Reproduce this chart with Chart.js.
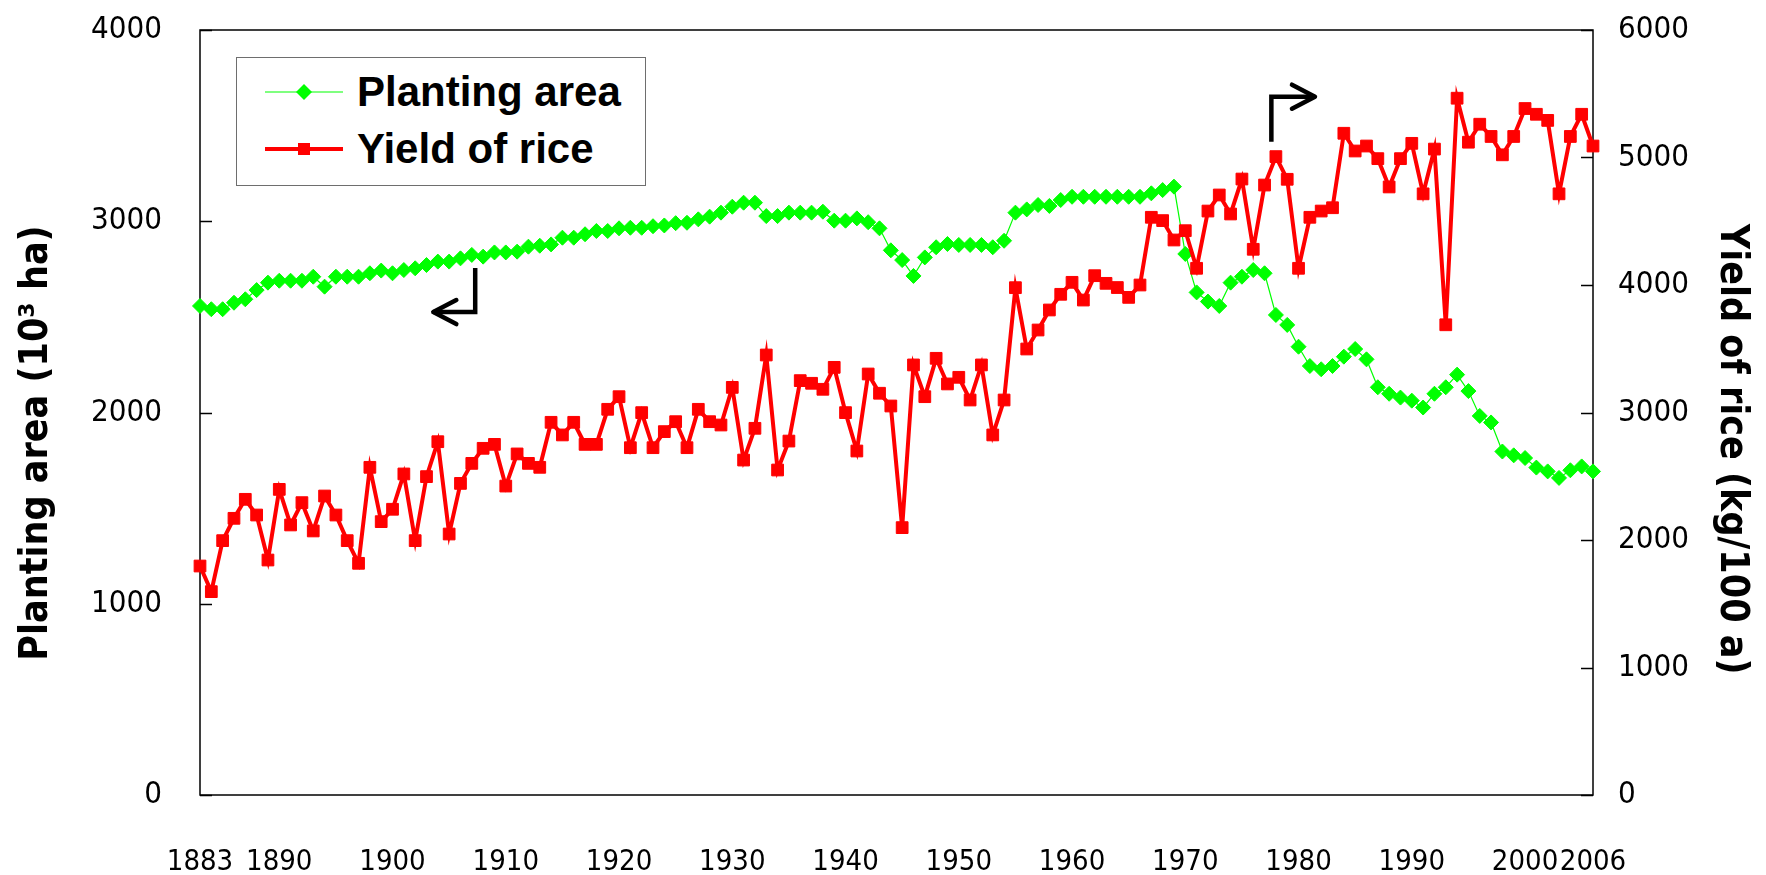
<!DOCTYPE html>
<html>
<head>
<meta charset="utf-8">
<script src="https://cdn.jsdelivr.net/npm/chart.js@4.4.0/dist/chart.umd.min.js"></script>
<style>
  html, body { margin: 0; padding: 0; background: #fff; }
  #wrap { position: relative; width: 1766px; height: 875px; }
  #legend {
    position: absolute; left: 236px; top: 57px; width: 410px; height: 129px;
    box-sizing: border-box; border: 1.5px solid #6e6e6e; background: #fff;
    font-family: 'Liberation Sans', Arial, sans-serif; font-weight: bold; font-size: 42px; color: #000;
  }
  .row { position: absolute; left: 0; height: 50px; display: flex; align-items: center; }
  .row svg { margin-left: 27px; }
  .row span { margin-left: 13px; line-height: 1; }
</style>
</head>
<body>
<div id="wrap">
  <canvas id="chart" width="1766" height="875"></canvas>
  <div id="legend">
    <div class="row" style="top:9px">
      <svg width="80" height="20"><line x1="1" y1="10" x2="79" y2="10" stroke="#00ff00" stroke-width="1.2"/><polygon points="40,2 48,10 40,18 32,10" fill="#00ff00"/></svg>
      <span>Planting area</span>
    </div>
    <div class="row" style="top:66px">
      <svg width="80" height="20"><line x1="1" y1="10" x2="79" y2="10" stroke="#ff0000" stroke-width="4"/><rect x="34" y="4" width="12" height="12" fill="#ff0000"/></svg>
      <span>Yield of rice</span>
    </div>
  </div>
</div>
<script>
// years 1883 - 2006
const years = [];
for (let y = 1883; y <= 2006; y++) years.push(y);

const xTicks = [1883, 1890, 1900, 1910, 1920, 1930, 1940, 1950, 1960, 1970, 1980, 1990, 2000, 2006];

// planting area (10^3 ha), left axis
const plantingArea = [
  2557, 2540, 2540, 2574, 2592, 2640, 2679,                   // 1883-1889
  2689, 2689, 2689, 2710, 2658, 2710, 2710, 2710, 2728, 2742, // 1890s
  2728, 2745, 2754, 2771, 2789, 2789, 2806, 2824, 2815, 2837, // 1900s
  2837, 2841, 2867, 2872, 2879, 2914, 2914, 2932, 2949, 2949, // 1910s
  2963, 2966, 2966, 2974, 2978, 2990, 2992, 3010, 3024, 3045, // 1920s
  3076, 3097, 3097, 3027, 3027, 3045, 3045, 3045, 3050, 3003, // 1930s
  3003, 3015, 2995, 2963, 2848, 2797, 2714, 2811, 2864, 2881, // 1940s
  2876, 2876, 2876, 2864, 2898, 3045, 3062, 3085, 3080, 3111, // 1950s
  3128, 3128, 3128, 3128, 3128, 3128, 3128, 3146, 3163, 3181, // 1960s
  2829, 2628, 2580, 2557, 2679, 2710, 2745, 2728, 2510, 2458, // 1970s
  2344, 2243, 2226, 2243, 2292, 2332, 2278, 2132, 2098, 2078, // 1980s
  2062, 2026, 2098, 2132, 2198, 2112, 1982, 1948, 1796, 1776, // 1990s
  1762, 1712, 1692, 1658, 1698, 1718, 1692                    // 2000-2006
];

// yield of rice (kg/100 a), right axis
const riceYield = [
  1796, 1595, 1995, 2170, 2319, 2196, 1843,                   // 1883-1889
  2397, 2118, 2293, 2071, 2345, 2196, 1995, 1817, 2570, 2144, // 1890s
  2241, 2518, 1995, 2497, 2771, 2047, 2444, 2601, 2719, 2750, // 1900s
  2423, 2675, 2601, 2570, 2923, 2824, 2923, 2750, 2750, 3025, // 1910s
  3124, 2724, 2999, 2724, 2850, 2928, 2724, 3025, 2928, 2902, // 1920s
  3197, 2627, 2876, 3451, 2549, 2776, 3250, 3229, 3182, 3354, // 1930s
  2999, 2698, 3302, 3151, 3051, 2097, 3373, 3124, 3425, 3224, // 1940s
  3276, 3098, 3373, 2824, 3098, 3979, 3498, 3647, 3804, 3927, // 1950s
  4021, 3882, 4073, 4013, 3980, 3903, 4000, 4531, 4505, 4353, // 1960s
  4426, 4131, 4580, 4706, 4557, 4831, 4280, 4784, 5007, 4829, // 1970s
  4131, 4531, 4580, 4606, 5190, 5051, 5090, 4991, 4769, 4991, // 1980s
  5111, 4715, 5066, 3688, 5465, 5120, 5261, 5165, 5021, 5165, // 1990s
  5384, 5339, 5291, 4715, 5165, 5339, 5090                    // 2000-2006
];

// arrows pointing to each series' axis (data coordinates)
const arrowToLeft = { axis: 'y', start: [1907.3, 2756], corner: [1907.3, 2525], tip: [1903.6, 2525] };
const arrowToRight = { axis: 'y1', start: [1977.6, 5124], corner: [1977.6, 5477], tip: [1981.45, 5477] };

const NARROW = "'Liberation Sans Narrow', 'Arial Narrow', 'DejaVu Sans Condensed', sans-serif";
const tickFont = { family: NARROW, size: 31 };
const xTickFont = { family: NARROW, size: 29 };
const titleFont = { family: NARROW, size: 39, weight: 'bold' };
const nb = n => '\u00a0'.repeat(n);

// invisible tick marks only push the labels away from the axis
const hiddenTicks = len => ({
  display: true, drawOnChartArea: false, drawTicks: true, tickLength: len,
  color: 'rgba(0,0,0,0)', tickColor: 'rgba(0,0,0,0)'
});

// frame, inward tick marks and arrows
const framePlugin = {
  id: 'frame',
  beforeDatasetsDraw(chart) {
    const { ctx, chartArea: a, scales } = chart;
    ctx.save();
    ctx.strokeStyle = '#000';
    ctx.lineWidth = 1.5;
    ctx.strokeRect(a.left, a.top, a.right - a.left, a.bottom - a.top);
    ctx.lineWidth = 1.3;
    ctx.beginPath();
    scales.y.ticks.forEach(t => {
      const py = Math.round(scales.y.getPixelForValue(t.value)) + 0.5;
      ctx.moveTo(a.left, py); ctx.lineTo(a.left + 12, py);
    });
    scales.y1.ticks.forEach(t => {
      const py = Math.round(scales.y1.getPixelForValue(t.value)) + 0.5;
      ctx.moveTo(a.right - 12, py); ctx.lineTo(a.right, py);
    });
    ctx.stroke();
    ctx.restore();
  },
  afterDatasetsDraw(chart) {
    const { ctx, scales } = chart;
    ctx.save();
    ctx.strokeStyle = '#000';
    ctx.lineWidth = 4.5;
    [arrowToLeft, arrowToRight].forEach(ar => {
      const ys = scales[ar.axis];
      const p = v => [scales.x.getPixelForValue(v[0]), ys.getPixelForValue(v[1])];
      const s = p(ar.start), c = p(ar.corner), t = p(ar.tip);
      ctx.lineCap = 'butt';
      ctx.lineJoin = 'miter';
      ctx.beginPath();
      ctx.moveTo(s[0], s[1]); ctx.lineTo(c[0], c[1]); ctx.lineTo(t[0], t[1]);
      ctx.stroke();
      const dir = Math.sign(t[0] - c[0]);
      ctx.lineCap = 'round';
      ctx.lineJoin = 'round';
      ctx.beginPath();
      ctx.moveTo(t[0] - dir * 23, t[1] - 12); ctx.lineTo(t[0], t[1]); ctx.lineTo(t[0] - dir * 23, t[1] + 12);
      ctx.stroke();
    });
    ctx.restore();
  }
};

const ctx = document.getElementById('chart').getContext('2d');
new Chart(ctx, {
  type: 'line',
  data: {
    datasets: [
      {
        label: 'Yield of rice',
        data: years.map((y, i) => ({ x: y, y: riceYield[i] })),
        yAxisID: 'y1',
        borderColor: '#ff0000',
        backgroundColor: '#ff0000',
        borderWidth: 4,
        pointStyle: 'rect',
        pointRadius: 8.3,
        pointBorderWidth: 1,
        tension: 0,
        clip: false,
        order: 0
      },
      {
        label: 'Planting area',
        data: years.map((y, i) => ({ x: y, y: plantingArea[i] })),
        yAxisID: 'y',
        borderColor: '#00ff00',
        backgroundColor: '#00ff00',
        borderWidth: 1.2,
        pointStyle: 'rectRot',
        pointRadius: 7.5,
        pointBorderWidth: 1,
        tension: 0,
        clip: false,
        order: 1
      }
    ]
  },
  options: {
    responsive: false,
    animation: false,
    devicePixelRatio: 1,
    layout: { padding: { top: 30, left: 0, right: 0, bottom: 0 } },
    plugins: { legend: { display: false }, tooltip: { enabled: false } },
    scales: {
      x: {
        type: 'linear',
        min: 1883,
        max: 2006,
        grid: { display: false, drawTicks: false },
        border: { display: false },
        afterBuildTicks: s => { s.ticks = xTicks.map(v => ({ value: v })); },
        afterFit: s => { s.height = 80; },
        ticks: { font: xTickFont, color: '#000', padding: 50, autoSkip: false, maxRotation: 0, callback: v => String(v) }
      },
      y: {
        position: 'left',
        min: 0,
        max: 4000,
        grid: hiddenTicks(38),
        border: { display: false },
        afterFit: s => { s.width = 200; },
        ticks: { stepSize: 1000, font: tickFont, color: '#000', padding: 0, callback: v => String(v) },
        title: { display: true, text: 'Planting area (10³ ha)' + nb(5), font: titleFont, color: '#000', padding: { top: 13, bottom: 0 } }
      },
      y1: {
        position: 'right',
        min: 0,
        max: 6000,
        grid: hiddenTicks(25),
        border: { display: false },
        afterFit: s => { s.width = 173; },
        ticks: { stepSize: 1000, font: tickFont, color: '#000', padding: 0, callback: v => String(v) },
        title: { display: true, text: nb(6) + 'Yield of rice (kg/100 a)', font: titleFont, color: '#000', padding: { top: 11, bottom: 0 } }
      }
    }
  },
  plugins: [framePlugin]
});
</script>
</body>
</html>
